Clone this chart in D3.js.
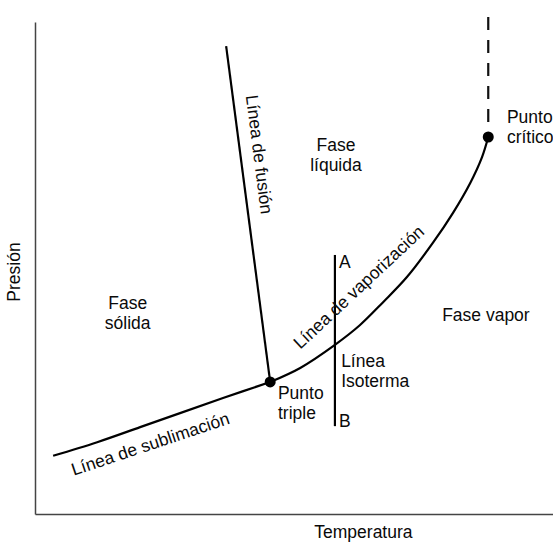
<!DOCTYPE html>
<html>
<head>
<meta charset="utf-8">
<script src="https://cdn.jsdelivr.net/npm/d3@7"></script>
<style>
  html, body { margin: 0; padding: 0; background: #fff; }
  svg { display: block; }
  text { font-family: "Liberation Sans", Arial, Helvetica, sans-serif; font-size: 17.5px; fill: #0a0a0a; }
</style>
</head>
<body>
<svg id="chart"></svg>
<script>
// curves of the phase diagram, [temperatura, presion] in arbitrary units 0..100
var sublimacion = [[3.5, 11.6], [12.0, 14.3], [20.3, 17.3], [28.0, 20.1], [36.3, 23.1], [45.4, 26.3]];
var vaporizacion = [[45.4, 26.3], [51.2, 29.1], [57.9, 33.7], [62.7, 37.6], [67.2, 42.2], [71.8, 47.2],
    [76.8, 54.0], [80.7, 60.0], [84.0, 65.9], [86.3, 71.1], [87.5, 75.1]];
var fusion = [[36.9, 93.2], [45.4, 26.3]];
var isoterma = [[57.9, 51.6], [57.9, 17.5]];
var criticaExt = [[87.5, 78.1], [87.5, 100]];
var puntos = [[45.4, 26.3], [87.5, 75.1]];

// label text and anchor point (same units)
var etiquetas = [
    {lines: ['Fase', 'sólida'], at: [17.9, 40.8], anchor: 'middle', gap: 20},
    {lines: ['Fase', 'líquida'], at: [58.1, 72.3], anchor: 'middle', gap: 19.5},
    {lines: ['Punto', 'crítico'], at: [91.1, 77.9], anchor: 'start', gap: 20},
    {lines: ['Fase vapor'], at: [78.6, 38.4], anchor: 'start', gap: 0},
    {lines: ['Línea', 'Isoterma'], at: [59.1, 29.3], anchor: 'start', gap: 20},
    {lines: ['Punto', 'triple'], at: [46.9, 22.9], anchor: 'start', gap: 19.5},
    {lines: ['A'], at: [58.7, 49.0], anchor: 'start', gap: 0},
    {lines: ['B'], at: [58.7, 17.3], anchor: 'start', gap: 0}
];
var rotadas = [
    {text: 'Línea de sublimación', at: [7.5, 7.6], angle: -18.5},
    {text: 'Línea de vaporización', at: [51.2, 32.7], angle: -43},
    {text: 'Línea de fusión', at: [40.7, 83.3], angle: 82.7}
];

var width = 553, height = 542;
var svg = d3.select('#chart').attr('width', width).attr('height', height);

var x = d3.scaleLinear().domain([0, 100]).range([35, 553]);
var y = d3.scaleLinear().domain([0, 100]).range([514, 12]);

// axes: only the two base lines, no ticks
svg.append('g')
    .attr('transform', 'translate(0,' + y(0) + ')')
    .call(d3.axisBottom(x).ticks(0).tickSizeOuter(0))
    .select('.domain').attr('stroke', '#444').attr('stroke-width', 1.5);
svg.append('g')
    .attr('transform', 'translate(' + x(0) + ',0)')
    .call(d3.axisLeft(y.copy().domain([0, 98]).range([514, 22])).ticks(0).tickSizeOuter(0))
    .select('.domain').attr('stroke', '#444').attr('stroke-width', 1.5);

svg.append('text')
    .attr('x', x(63.4)).attr('y', 538)
    .attr('text-anchor', 'middle')
    .text('Temperatura');
svg.append('text')
    .attr('transform', 'translate(' + x(-2.9) + ',' + y(48.2) + ') rotate(-90)')
    .attr('text-anchor', 'middle')
    .text('Presión');

var line = d3.line().x(function(d) { return x(d[0]); }).y(function(d) { return y(d[1]); });
var curved = d3.line().curve(d3.curveCatmullRom.alpha(0.5))
    .x(function(d) { return x(d[0]); }).y(function(d) { return y(d[1]); });

svg.append('path').attr('d', curved(sublimacion))
    .attr('fill', 'none').attr('stroke', '#000').attr('stroke-width', 2.2);
svg.append('path').attr('d', curved(vaporizacion))
    .attr('fill', 'none').attr('stroke', '#000').attr('stroke-width', 2.2);
svg.append('path').attr('d', line(fusion))
    .attr('fill', 'none').attr('stroke', '#000').attr('stroke-width', 2.2);
svg.append('path').attr('d', line(isoterma))
    .attr('fill', 'none').attr('stroke', '#000').attr('stroke-width', 2.2);
svg.append('path').attr('d', line(criticaExt))
    .attr('fill', 'none').attr('stroke', '#111').attr('stroke-width', 2.2)
    .attr('stroke-dasharray', '13,10');

svg.selectAll('circle.pt').data(puntos).enter().append('circle')
    .attr('class', 'pt')
    .attr('cx', function(d) { return x(d[0]); })
    .attr('cy', function(d) { return y(d[1]); })
    .attr('r', 5.5)
    .attr('fill', '#000');

etiquetas.forEach(function(e) {
    var t = svg.append('text')
        .attr('x', x(e.at[0])).attr('y', y(e.at[1]))
        .attr('text-anchor', e.anchor);
    e.lines.forEach(function(s, i) {
        t.append('tspan')
            .attr('x', x(e.at[0]))
            .attr('dy', i === 0 ? 0 : e.gap)
            .text(s);
    });
});

rotadas.forEach(function(r) {
    svg.append('text')
        .attr('transform', 'translate(' + x(r.at[0]) + ',' + y(r.at[1]) + ') rotate(' + r.angle + ')')
        .text(r.text);
});
</script>
</body>
</html>
